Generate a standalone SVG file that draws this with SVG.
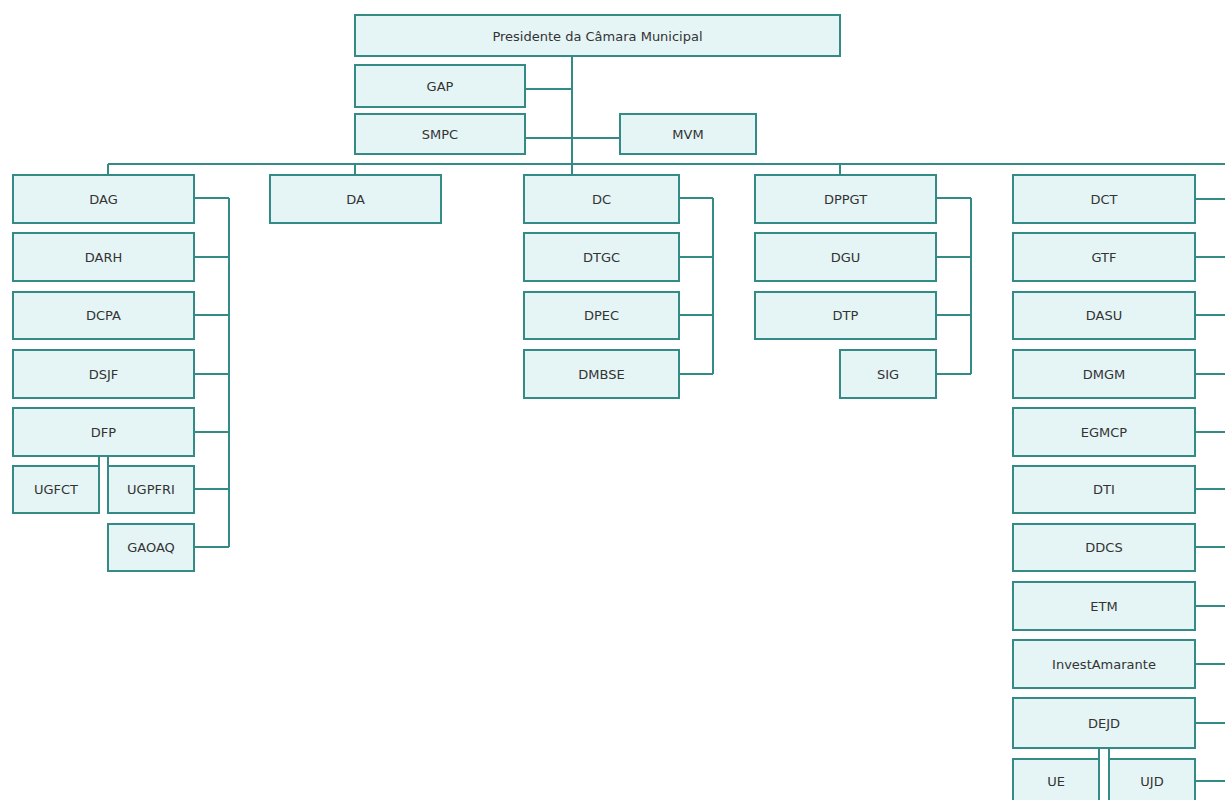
<svg xmlns="http://www.w3.org/2000/svg" width="1225" height="800" viewBox="0 0 1225 800">
<style>
.n rect{fill:#e5f5f6;stroke:#348a84;stroke-width:2}
.n text{font-family:"DejaVu Sans",Verdana,sans-serif;font-size:13px;fill:#333;text-anchor:middle;dominant-baseline:central}
#connectors path{fill:none;stroke:#348a84;stroke-width:2}
</style>
<rect width="1225" height="800" fill="#fff"/>
<g id="connectors">
<path d="M572 56V175M525 89H572M525 138H620M108 164H1225M108 164V175M355 164V175M840 164V175"/>
<path d="M229 198V547M194 198H229M194 257H229M194 315H229M194 374H229M194 432H229M194 489H229M194 547H229M99 456V466M108 456V466"/>
<path d="M713 198V374M679 198H713M679 257H713M679 315H713M679 374H713"/>
<path d="M971 198V374M936 198H971M936 257H971M936 315H971M936 374H971"/>
<path d="M1195 199H1225M1195 257H1225M1195 315H1225M1195 374H1225M1195 432H1225M1195 489H1225M1195 547H1225M1195 606H1225M1195 664H1225M1195 723H1225M1195 781H1225M1099 748V800M1109 748V800"/>
</g>
<g id="presidente" class="n"><rect x="355" y="15" width="485" height="41"/><text x="597.5" y="36">Presidente da Câmara Municipal</text></g>
<g id="gap" class="n"><rect x="355" y="65" width="170" height="42"/><text x="440" y="86">GAP</text></g>
<g id="smpc" class="n"><rect x="355" y="114" width="170" height="40"/><text x="440" y="134">SMPC</text></g>
<g id="mvm" class="n"><rect x="620" y="114" width="136" height="40"/><text x="688" y="134">MVM</text></g>
<g id="dag" class="n"><rect x="13" y="175" width="181" height="48"/><text x="103.5" y="199">DAG</text></g>
<g id="darh" class="n"><rect x="13" y="233" width="181" height="48"/><text x="103.5" y="257">DARH</text></g>
<g id="dcpa" class="n"><rect x="13" y="292" width="181" height="47"/><text x="103.5" y="315.5">DCPA</text></g>
<g id="dsjf" class="n"><rect x="13" y="350" width="181" height="48"/><text x="103.5" y="374">DSJF</text></g>
<g id="dfp" class="n"><rect x="13" y="408" width="181" height="48"/><text x="103.5" y="432">DFP</text></g>
<g id="ugfct" class="n"><rect x="13" y="466" width="86" height="47"/><text x="56" y="489.5">UGFCT</text></g>
<g id="ugpfri" class="n"><rect x="108" y="466" width="86" height="47"/><text x="151" y="489.5">UGPFRI</text></g>
<g id="gaoaq" class="n"><rect x="108" y="524" width="86" height="47"/><text x="151" y="547.5">GAOAQ</text></g>
<g id="da" class="n"><rect x="270" y="175" width="171" height="48"/><text x="355.5" y="199">DA</text></g>
<g id="dc" class="n"><rect x="524" y="175" width="155" height="48"/><text x="601.5" y="199">DC</text></g>
<g id="dtgc" class="n"><rect x="524" y="233" width="155" height="48"/><text x="601.5" y="257">DTGC</text></g>
<g id="dpec" class="n"><rect x="524" y="292" width="155" height="47"/><text x="601.5" y="315.5">DPEC</text></g>
<g id="dmbse" class="n"><rect x="524" y="350" width="155" height="48"/><text x="601.5" y="374">DMBSE</text></g>
<g id="dppgt" class="n"><rect x="755" y="175" width="181" height="48"/><text x="845.5" y="199">DPPGT</text></g>
<g id="dgu" class="n"><rect x="755" y="233" width="181" height="48"/><text x="845.5" y="257">DGU</text></g>
<g id="dtp" class="n"><rect x="755" y="292" width="181" height="47"/><text x="845.5" y="315.5">DTP</text></g>
<g id="sig" class="n"><rect x="840" y="350" width="96" height="48"/><text x="888" y="374">SIG</text></g>
<g id="dct" class="n"><rect x="1013" y="175" width="182" height="48"/><text x="1104" y="199">DCT</text></g>
<g id="gtf" class="n"><rect x="1013" y="233" width="182" height="48"/><text x="1104" y="257">GTF</text></g>
<g id="dasu" class="n"><rect x="1013" y="292" width="182" height="47"/><text x="1104" y="315.5">DASU</text></g>
<g id="dmgm" class="n"><rect x="1013" y="350" width="182" height="48"/><text x="1104" y="374">DMGM</text></g>
<g id="egmcp" class="n"><rect x="1013" y="408" width="182" height="48"/><text x="1104" y="432">EGMCP</text></g>
<g id="dti" class="n"><rect x="1013" y="466" width="182" height="47"/><text x="1104" y="489.5">DTI</text></g>
<g id="ddcs" class="n"><rect x="1013" y="524" width="182" height="47"/><text x="1104" y="547.5">DDCS</text></g>
<g id="etm" class="n"><rect x="1013" y="582" width="182" height="48"/><text x="1104" y="606">ETM</text></g>
<g id="investamarante" class="n"><rect x="1013" y="640" width="182" height="48"/><text x="1104" y="664">InvestAmarante</text></g>
<g id="dejd" class="n"><rect x="1013" y="698" width="182" height="50"/><text x="1104" y="723">DEJD</text></g>
<g id="ue" class="n"><rect x="1013" y="759" width="86" height="60"/><text x="1056" y="781">UE</text></g>
<g id="ujd" class="n"><rect x="1109" y="759" width="86" height="60"/><text x="1152" y="781">UJD</text></g>
</svg>
